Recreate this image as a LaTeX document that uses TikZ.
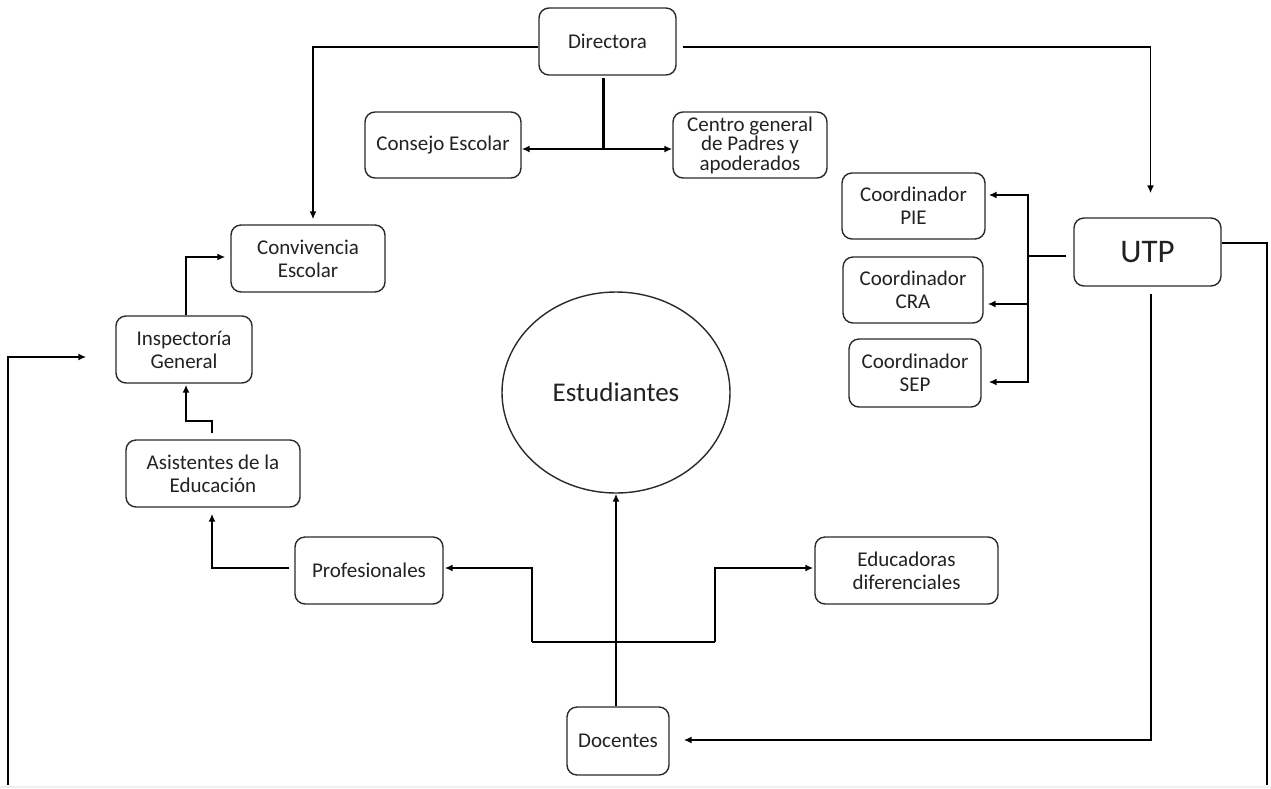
\documentclass[tikz,border=0pt]{standalone}
\usepackage{fontspec}
\setmainfont{Carlito}
\usetikzlibrary{arrows.meta,shapes.geometric}
\definecolor{boxline}{HTML}{2A2A2A}
\definecolor{txt}{HTML}{222222}
\tikzset{
  box/.style={draw=boxline, line width=1.4pt, rounded corners=10pt, align=center,
    inner sep=0pt, text=txt, font=\fontsize{21}{23}\selectfont},
  conn/.style={draw=black, line width=1.7pt},
  arr/.style={conn, -{Latex[length=8pt,width=7pt]}},
  darr/.style={conn, {Latex[length=8pt,width=7pt]}-{Latex[length=8pt,width=7pt]}},
}
\begin{document}
\begin{tikzpicture}[x=1pt,y=-1pt]
\useasboundingbox (0,0) rectangle (1271,788);
\fill[white] (0,0) rectangle (1271,788);
\fill[gray!12] (0,786) rectangle (1271,788);

% nodes
\node[box, minimum width=137pt, minimum height=67pt] (dir) at (607.5,41.5) {Directora};
\node[box, minimum width=156pt, minimum height=66pt] (consejo) at (443,145) {Consejo Escolar};
\node[box, minimum width=154pt, minimum height=66pt, font=\fontsize{21}{19.5}\selectfont] (centro) at (750,145) {Centro general\\de Padres y\\apoderados};
\node[box, minimum width=154pt, minimum height=67pt] (conv) at (308,258.5) {Convivencia\\Escolar};
\node[box, minimum width=136pt, minimum height=67pt] (insp) at (184,349.5) {Inspectoría\\General};
\node[box, minimum width=174pt, minimum height=67pt] (asis) at (213,473.5) {Asistentes de la\\Educación};
\node[box, minimum width=148pt, minimum height=67pt] (prof) at (369,570.5) {Profesionales};
\node[box, minimum width=183pt, minimum height=67pt] (educ) at (906.5,570.5) {Educadoras\\diferenciales};
\node[box, minimum width=102pt, minimum height=68pt] (doc) at (618,741) {Docentes};
\node[draw=boxline, line width=1.4pt, ellipse, inner sep=0pt, minimum width=228pt, minimum height=201pt,
      text=txt, font=\fontsize{27}{30}\selectfont] (est) at (616,392.5) {Estudiantes};
\node[box, minimum width=143pt, minimum height=66pt] (pie) at (913.5,206) {Coordinador\\PIE};
\node[box, minimum width=140pt, minimum height=66pt] (cra) at (913,290) {Coordinador\\CRA};
\node[box, minimum width=132pt, minimum height=68pt] (sep) at (915,373) {Coordinador\\SEP};
\node[box, minimum width=147pt, minimum height=68pt, font=\fontsize{33}{36}\selectfont] (utp) at (1147.5,252) {UTP};

% helper coordinates
\coordinate (j1) at (603,149);
\coordinate (bx) at (1028,256);
\coordinate (rb) at (1267,785);
\coordinate (lb) at (8,785);
\coordinate (pl) at (532,642);
\coordinate (pr) at (715,642);

% Directora connectors
\draw[arr, shorten >=5pt] ([yshift=-5.5pt]dir.west) -| ([xshift=5pt]conv.north);
\draw[arr, shorten <=6pt, shorten >=24pt] ([yshift=-5.5pt]dir.east) -| ([xshift=3pt]utp.north);
\draw[draw=black, line width=3pt] ([xshift=-4.5pt,yshift=-2pt]dir.south) -- (j1);
\draw[darr] (consejo.east |- j1) -- (centro.west |- j1);

% UTP connectors
\draw[conn, shorten <=7pt] ([yshift=-4pt]utp.west) -- (bx);
\draw[arr, shorten >=3pt] (bx) |- ([yshift=11pt]pie.east);
\draw[arr, shorten >=4pt] (bx) |- ([yshift=-14pt]cra.east);
\draw[arr, shorten >=7pt] (bx) |- ([yshift=-9pt]sep.east);
\draw[conn] ([yshift=9pt]utp.east) -| (rb);
\draw[arr, shorten <=7pt, shorten >=14pt] ([xshift=3.5pt]utp.south) |- ([yshift=1pt]doc.east);

% Docentes connectors
\draw[arr] (est.south |- doc.north) -- (est.south);
\draw[conn] (pl) -- (pr);
\draw[arr, shorten >=1pt] (pl) |- ([yshift=2.5pt]prof.east);
\draw[arr, shorten >=1pt] (pr) |- ([yshift=2.5pt]educ.west);

% left column connectors
\draw[arr, shorten <=5pt, shorten >=6pt] ([yshift=2.5pt]prof.west) -| ([xshift=-1pt]asis.south);
\draw[arr, shorten <=6pt, shorten >=1pt] ([xshift=-1pt]asis.north) -- ++(0,-18) -| ([xshift=2pt]insp.south);
\draw[arr, shorten >=5pt] ([xshift=2pt]insp.north) |- ([yshift=1.5pt]conv.west);
\draw[arr, shorten >=29pt] (lb) |- ([yshift=-7.5pt]insp.west);
\end{tikzpicture}
\end{document}
